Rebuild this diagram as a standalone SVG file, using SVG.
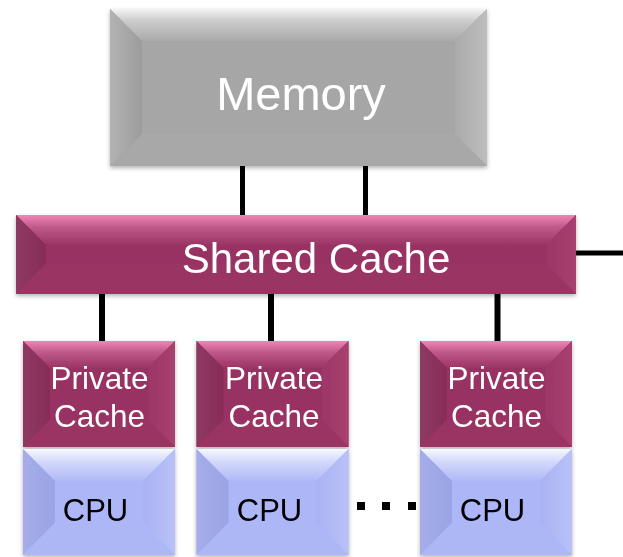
<svg xmlns="http://www.w3.org/2000/svg" xmlns:xlink="http://www.w3.org/1999/xlink" width="623" height="557" viewBox="0 0 623 557">
  <style>
    text { font-family: "Liberation Sans", Arial, sans-serif; text-anchor: middle; }
    .light { fill: #ffffff; }
    .dark { fill: #000000; }
    .wire { stroke: #000000; fill: none; }
    .dot { fill: #000000; }
  </style>
  <defs>
    <filter id="shadow" x="-10%" y="-10%" width="120%" height="130%">
      <feDropShadow dx="0" dy="2" stdDeviation="2" flood-color="#000" flood-opacity="0.3"/>
    </filter>
    <!-- bevel gradients: top highlight fading into the face -->
    <linearGradient id="gTopGray" x1="0" y1="0" x2="0" y2="1">
      <stop offset="0" stop-color="#f4f4f4"/>
      <stop offset="0.35" stop-color="#cdcdcd"/>
      <stop offset="1" stop-color="#aaaaaa"/>
    </linearGradient>
    <linearGradient id="gLeftGray" x1="0" y1="0" x2="1" y2="0">
      <stop offset="0" stop-color="#b3b3b3"/>
      <stop offset="1" stop-color="#9c9c9c"/>
    </linearGradient>
    <linearGradient id="gRightGray" x1="0" y1="0" x2="1" y2="0">
      <stop offset="0" stop-color="#ababab"/>
      <stop offset="1" stop-color="#bdbdbd"/>
    </linearGradient>
    <linearGradient id="gTopMag" x1="0" y1="0" x2="0" y2="1">
      <stop offset="0" stop-color="#f483b8"/>
      <stop offset="0.4" stop-color="#c05a8a"/>
      <stop offset="1" stop-color="#9a3464"/>
    </linearGradient>
    <linearGradient id="gLeftMag" x1="0" y1="0" x2="1" y2="0">
      <stop offset="0" stop-color="#8e3a62"/>
      <stop offset="1" stop-color="#872c57"/>
    </linearGradient>
    <linearGradient id="gRightMag" x1="0" y1="0" x2="1" y2="0">
      <stop offset="0" stop-color="#9c3666"/>
      <stop offset="1" stop-color="#a8406f"/>
    </linearGradient>
    <linearGradient id="gTopBlue" x1="0" y1="0" x2="0" y2="1">
      <stop offset="0" stop-color="#f7f8ff"/>
      <stop offset="0.4" stop-color="#d2d8fb"/>
      <stop offset="1" stop-color="#b0b9f6"/>
    </linearGradient>
    <linearGradient id="gLeftBlue" x1="0" y1="0" x2="1" y2="0">
      <stop offset="0" stop-color="#a5ade9"/>
      <stop offset="1" stop-color="#9ba4e4"/>
    </linearGradient>
    <linearGradient id="gRightBlue" x1="0" y1="0" x2="1" y2="0">
      <stop offset="0" stop-color="#aab3f3"/>
      <stop offset="1" stop-color="#b9c1f8"/>
    </linearGradient>

    <!-- small bevelled tiles, 152 x 106, drawn at the origin -->
    <g id="tileCache">
      <rect x="0" y="0" width="152" height="106" fill="#983262"/>
      <polygon points="0,0 152,0 125,27 27,27" fill="url(#gTopMag)"/>
      <polygon points="0,0 27,27 27,79 0,106" fill="url(#gLeftMag)"/>
      <polygon points="152,0 152,106 125,79 125,27" fill="url(#gRightMag)"/>
      <polygon points="0,106 27,79 125,79 152,106" fill="#9a3464"/>
    </g>
    <g id="tileCpu">
      <rect x="0" y="0" width="152" height="106" fill="#adb6f7"/>
      <polygon points="0,0 152,0 120,32 32,32" fill="url(#gTopBlue)"/>
      <polygon points="0,0 32,32 32,74 0,106" fill="url(#gLeftBlue)"/>
      <polygon points="152,0 152,106 120,74 120,32" fill="url(#gRightBlue)"/>
      <polygon points="0,106 32,74 120,74 152,106" fill="#aeb7f6"/>
    </g>
  </defs>

  <!-- connectors -->
  <g id="connectors">
    <line class="wire" x1="242.5" y1="165" x2="242.5" y2="216" stroke-width="5"/>
    <line class="wire" x1="365.5" y1="165" x2="365.5" y2="216" stroke-width="5"/>
    <line class="wire" x1="102" y1="290" x2="102" y2="342" stroke-width="6"/>
    <line class="wire" x1="271" y1="290" x2="271" y2="342" stroke-width="6"/>
    <line class="wire" x1="497.5" y1="290" x2="497.5" y2="342" stroke-width="6"/>
    <line class="wire" x1="575" y1="253" x2="623" y2="253" stroke-width="5"/>
    <rect class="dot" x="357" y="502" width="8" height="8"/>
    <rect class="dot" x="382" y="502" width="8" height="8"/>
    <rect class="dot" x="408" y="502" width="8" height="8"/>
  </g>

  <!-- main memory -->
  <g id="memory" filter="url(#shadow)">
    <rect x="110" y="9" width="377" height="157" fill="#a6a6a6"/>
    <polygon points="110,9 487,9 455,41 142,41" fill="url(#gTopGray)"/>
    <polygon points="110,9 142,41 142,134 110,166" fill="url(#gLeftGray)"/>
    <polygon points="487,9 487,166 455,134 455,41" fill="url(#gRightGray)"/>
    <polygon points="110,166 142,134 455,134 487,166" fill="#a8a8a8"/>
    <text class="light" x="301" y="110" font-size="47">Memory</text>
  </g>

  <!-- shared cache -->
  <g id="shared-cache" filter="url(#shadow)">
    <rect x="16" y="215" width="560" height="79" fill="#983262"/>
    <polygon points="16,215 576,215 546,245 46,245" fill="url(#gTopMag)"/>
    <polygon points="16,215 46,245 46,264 16,294" fill="url(#gLeftMag)"/>
    <polygon points="576,215 576,294 546,264 546,245" fill="url(#gRightMag)"/>
    <polygon points="16,294 46,264 546,264 576,294" fill="#9a3464"/>
    <text class="light" x="316" y="273" font-size="42">Shared Cache</text>
  </g>

  <!-- private caches -->
  <g id="private-cache-1" filter="url(#shadow)">
    <use xlink:href="#tileCache" x="23" y="341"/>
    <text class="light" x="99.5" y="389" font-size="31.5">Private</text>
    <text class="light" x="99.5" y="427" font-size="31.5">Cache</text>
  </g>
  <g id="private-cache-2" filter="url(#shadow)">
    <use xlink:href="#tileCache" x="196.5" y="341"/>
    <text class="light" x="274" y="389" font-size="31.5">Private</text>
    <text class="light" x="274" y="427" font-size="31.5">Cache</text>
  </g>
  <g id="private-cache-3" filter="url(#shadow)">
    <use xlink:href="#tileCache" x="420" y="341"/>
    <text class="light" x="496.5" y="389" font-size="31.5">Private</text>
    <text class="light" x="496.5" y="427" font-size="31.5">Cache</text>
  </g>

  <!-- processors -->
  <g id="cpu-1" filter="url(#shadow)">
    <use xlink:href="#tileCpu" x="23" y="449"/>
    <text class="dark" x="95.5" y="521" font-size="31">CPU</text>
  </g>
  <g id="cpu-2" filter="url(#shadow)">
    <use xlink:href="#tileCpu" x="196.5" y="449"/>
    <text class="dark" x="269.5" y="521" font-size="31">CPU</text>
  </g>
  <g id="cpu-3" filter="url(#shadow)">
    <use xlink:href="#tileCpu" x="420" y="449"/>
    <text class="dark" x="492.5" y="521" font-size="31">CPU</text>
  </g>
</svg>
